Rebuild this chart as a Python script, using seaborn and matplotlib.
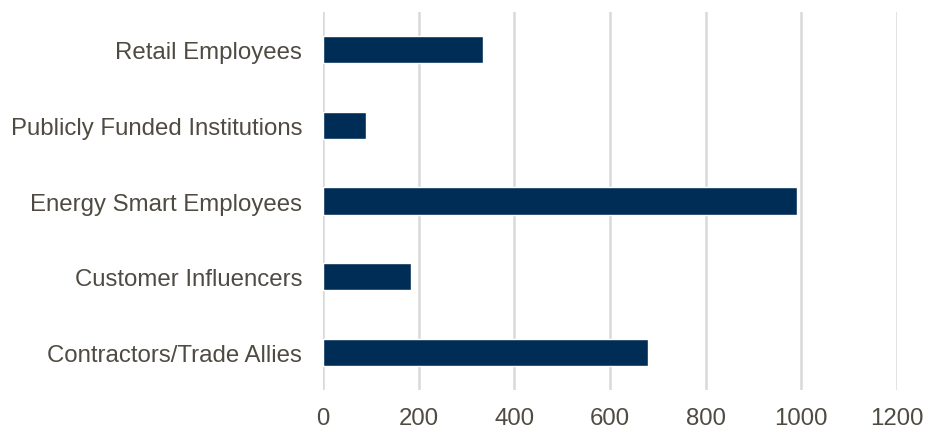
import matplotlib
matplotlib.use("Agg")
import matplotlib.pyplot as plt
import seaborn as sns
import pandas as pd

categories = [
    "Retail Employees",
    "Publicly Funded Institutions",
    "Energy Smart Employees",
    "Customer Influencers",
    "Contractors/Trade Allies",
]
values = [335, 90, 990, 185, 680]
x_ticks = [0, 200, 400, 600, 800, 1000, 1200]

df = pd.DataFrame({"group": categories, "count": values})

sns.set_theme(style="white")
plt.rcParams["font.family"] = ["Liberation Sans", "DejaVu Sans"]

text_color = "#4f4b43"
bar_color = "#002D56"
grid_color = "#d9d9d9"

fig = plt.figure(figsize=(9.25, 4.31), dpi=100)
ax = fig.add_axes([0.3492, 0.0928, 0.6205, 0.877])

sns.barplot(data=df, x="count", y="group", order=categories, color=bar_color,
            saturation=1, width=0.36, ax=ax, orient="h")

ax.set_xlim(0, 1200)
ax.set_ylim(len(categories) - 0.5, -0.5)
ax.set_xticks(x_ticks)
ax.set_xticklabels([str(t) for t in x_ticks])
ax.set_xlabel("")
ax.set_ylabel("")

ax.xaxis.grid(True, color=grid_color, linewidth=1.8)
ax.yaxis.grid(False)
ax.set_axisbelow(True)
for s in ax.spines.values():
    s.set_visible(False)

ax.tick_params(axis="x", length=0, pad=12, labelsize=17.3, labelcolor=text_color)
ax.tick_params(axis="y", length=0, pad=15, labelsize=17.3, labelcolor=text_color)

fig.savefig("out.png", dpi=100, facecolor="white")
